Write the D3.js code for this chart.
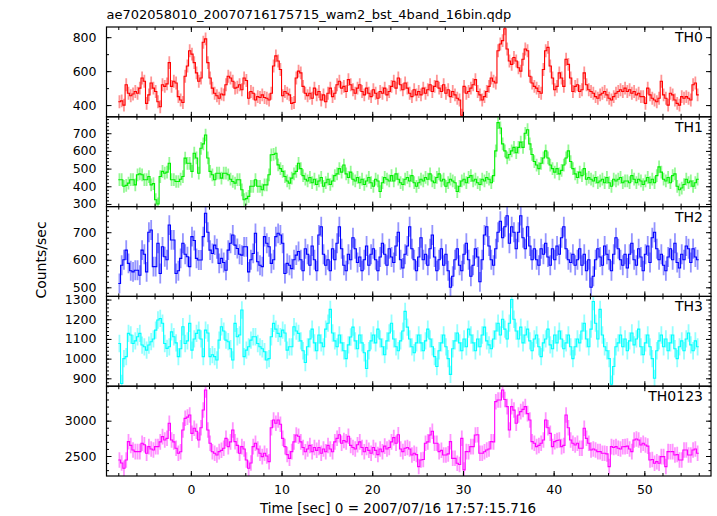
<!DOCTYPE html>
<html><head><meta charset="utf-8">
<script src="https://cdn.jsdelivr.net/npm/d3@7/dist/d3.min.js"></script>
<style>body{margin:0;background:#fff}svg{display:block}</style>
</head><body>
<svg id="c" width="717" height="516"></svg>
<script>
const title = "ae702058010_20070716175715_wam2_bst_4band_16bin.qdp";
const xLabel = "Time [sec] 0 = 2007/07/16 17:57:15.716";
const yLabel = "Counts/sec";
const panelNames = ["TH0", "TH1", "TH2", "TH3", "TH0123"];
const panelColors = ["#ff0000", "#00ee00", "#0000ff", "#00ffff", "#ff00ff"];
const yDomains = [[331, 860], [285, 793], [467, 793], [860, 1316], [2217, 3488]];
const yMajor = [[400, 600, 800], [300, 400, 500, 600, 700], [500, 600, 700], [900, 1000, 1100, 1200, 1300], [2500, 3000]];
const yMinorStep = [100, 20, 20, 20, 100];
const errHalf = [38, 36, 36, 44, 110];
const xTicks = [0, 10, 20, 30, 40, 50];
const binStart = -7.875, binWidth = 0.25;

const th0 = [
420,425,400,520, 470,455,465,480, 470,500,560,540, 410,460,530,500,
480,420,390,520, 510,525,650,510, 540,530,450,430, 415,570,630,720,
700,650,590,540, 560,770,790,650, 560,500,470,455, 440,465,460,520,
570,560,540,500, 505,520,490,560, 545,440,480,470, 430,450,445,460,
445,440,430,470, 630,690,660,610, 455,480,470,460, 410,415,560,600,
590,510,470,455, 470,440,500,460, 480,430,460,420, 470,500,450,470,
520,540,500,510, 480,550,520,490, 470,500,520,480, 460,500,470,450,
490,470,440,480, 470,500,460,480, 510,540,500,560, 520,490,530,500,
470,450,490,460, 480,460,500,470, 490,520,480,510, 540,500,480,520,
470,490,450,480, 460,440,430,340, 510,470,480,500, 520,550,480,460,
430,450,480,510, 560,540,530,720, 760,780,850,730, 660,640,680,660,
620,600,670,730, 720,570,530,510, 500,480,470,610, 720,740,630,560,
490,510,590,560, 510,670,640,560, 480,510,520,480, 490,590,520,490,
480,470,450,440, 460,470,480,460, 440,430,450,470, 480,490,480,500,
480,490,470,480, 460,470,450,450, 410,500,460,440, 430,420,440,540,
460,440,400,470, 460,430,410,400, 450,440,450,440, 430,520,530,460];

const th1 = [
437,437,400,405, 418,437,437,408, 465,470,465,437, 437,455,408,415,
324,300,455,484, 474,480,530,437, 437,427,427,440, 455,559,530,530,
484,587,560,474, 615,640,690,560, 484,465,437,474, 474,446,474,474,
465,440,427,418, 437,437,380,324, 330,343,400,400, 437,400,400,380,
408,408,465,578, 580,587,521,500, 484,455,430,418, 446,470,484,530,
500,460,440,430, 450,420,440,410, 430,450,400,420, 440,410,430,460,
470,500,480,520, 470,450,480,440, 430,450,420,440, 410,430,450,420,
400,440,430,370, 420,450,440,430, 460,430,470,440, 420,410,440,450,
430,460,420,400, 420,440,430,450, 440,470,430,420, 450,470,430,440,
400,420,440,430, 420,370,400,430, 440,420,450,460, 430,440,420,410,
440,430,450,440, 420,460,600,760, 730,640,600,560, 580,600,620,590,
620,650,620,700, 720,640,580,540, 520,500,530,560, 600,560,520,500,
480,500,470,490, 520,560,600,540, 500,470,450,480, 460,500,440,450,
440,430,450,420, 430,440,420,450, 420,400,440,430, 440,450,420,430,
430,420,460,440, 420,440,430,410, 430,450,420,440, 420,460,510,480,
440,430,450,420, 460,470,400,380, 390,410,440,420, 430,400,420,440];

const th2 = [
514,580,600,635, 587,560,556,562, 562,544,635,620, 556,700,708,575,
575,660,550,647, 611,600,726,672, 672,550,560,605, 660,620,611,575,
684,670,605,599, 599,684,769,700, 635,623,653,640, 587,605,590,562,
635,660,690,653, 641,620,617,647, 647,556,600,623, 696,593,580,575,
684,660,647,587, 600,684,696,690, 660,550,587,580, 568,600,617,630,
600,560,640,620, 580,650,600,560, 690,720,620,580, 600,560,640,600,
660,720,640,580, 560,620,600,680, 640,590,610,560, 600,650,580,620,
640,600,560,610, 660,620,580,640, 610,590,650,700, 600,570,620,650,
720,640,600,560, 610,680,600,620, 580,640,690,610, 560,600,640,580,
620,560,500,540, 600,640,580,560, 620,660,600,540, 580,640,610,520,
600,690,720,650, 600,580,640,700, 740,680,720,760, 660,720,700,640,
700,760,680,640, 720,650,600,640, 600,580,640,620, 660,610,580,640,
600,650,620,680, 720,640,600,590, 620,580,600,640, 580,620,560,600,
500,540,600,640, 610,580,650,620, 600,560,620,680, 640,600,580,620,
570,620,660,600, 580,640,610,560, 620,650,590,680, 700,640,600,620,
580,560,610,640, 600,660,590,570, 620,600,650,640, 590,640,610,600];

const th3 = [
1077,874,1000,1010, 1128,1120,1077,1090, 1111,1128,1069,1060, 1043,1069,1086,1100,
1145,1196,1204,1180, 1077,1052,1060,1136, 1111,1080,1010,1050, 1162,1077,1090,1179,
1043,1100,1128,1145, 1100,1010,1145,1130, 1010,1020,1010,993, 1094,1162,1140,1094,
1086,1050,993,1179, 1111,1120,1247,1010, 1043,1060,1094,1111, 1111,1077,1060,1050,
1035,993,1000,1111, 1179,1150,1128,1111, 1145,1130,1043,1060, 1060,1162,1140,1128,
1090,1040,980,1060, 1100,1150,1080,1040, 1120,1080,1060,1150, 1180,1250,1130,1090,
1060,1120,1080,1040, 1000,1070,1110,1160, 1090,1050,1120,1080, 1030,950,1040,1090,
1120,1080,1150,1100, 1060,1020,1090,1130, 1180,1100,1060,1040, 1090,1140,1240,1160,
1100,1060,1030,1080, 1120,1080,1040,1090, 1150,1100,1060,1010, 960,1040,1080,1120,
1060,1000,920,1050, 1090,1130,1080,1040, 1100,1060,1150,1120, 1080,1040,1100,1060,
1120,1160,1090,1070, 1050,1100,1140,1180, 1120,1200,1150,1100, 1180,1300,1200,1140,
1100,1160,1080,1120, 1150,1090,1040,1100, 1120,1060,1010,1080, 1100,1150,1070,1050,
1120,1080,1140,1100, 1050,1080,1120,1060, 1000,1060,1100,1080, 1140,1180,1100,1060,
1150,1290,1180,1100, 1250,1120,1060,1040, 1000,870,960,1060, 1080,1120,1060,1100,
1040,1090,1130,1070, 1100,1150,1060,1020, 1080,1120,1060,1000, 900,1040,1090,1120,
1060,1100,1040,1080, 1120,1050,1000,1060, 1090,1040,1100,1130, 1070,1040,1090,1060];

const th0123 = [
2444,2400,2326,2444, 2703,2650,2585,2562, 2562,2562,2680,2660, 2538,2633,2600,2585,
2633,2633,2700,2774, 2727,2750,2963,2727, 2700,2609,2538,2560, 2868,3033,3050,3080,
2821,2892,2850,2727, 2900,3151,3434,2868, 2680,2560,2538,2515, 2562,2580,2609,2750,
2633,2700,2868,2703, 2650,2538,2633,2600, 2444,2326,2400,2633, 2680,2600,2538,2491,
2538,2500,2420,2900, 3010,2963,3010,2950, 2750,2633,2520,2467, 2562,2700,2797,2780,
2700,2620,2560,2600, 2650,2560,2620,2580, 2620,2540,2600,2560, 2650,2600,2560,2700,
2750,2800,2680,2720, 2700,2780,2650,2620, 2600,2660,2700,2620, 2560,2620,2580,2540,
2620,2580,2520,2600, 2560,2640,2600,2620, 2700,2760,2680,2800, 2600,2562,2609,2620,
2600,2515,2540,2520, 2350,2444,2450,2680, 2700,2797,2850,2680, 2680,2562,2580,2515,
2515,2530,2703,2467, 2467,2397,2380,2750, 2303,2562,2560,2633, 2633,2797,2800,2538,
2538,2560,2585,2600, 2703,2700,3269,3293, 3293,3434,3300,3199, 2868,3199,3150,2963,
3080,3128,3160,3199, 3100,3010,2703,2680, 2633,2650,2680,2727, 3010,2900,2821,2633,
2703,2720,2727,2633, 2650,3080,2900,2727, 2680,2656,2680,2609, 2609,2892,2750,2680,
2585,2600,2585,2562, 2562,2540,2538,2530, 2350,2633,2620,2633, 2609,2600,2630,2633,
2640,2600,2562,2727, 2740,2727,2656,2680, 2656,2640,2444,2450, 2397,2420,2397,2491,
2491,2350,2562,2560, 2562,2515,2520,2444, 2444,2585,2585,2515, 2515,2585,2600,2538];

const seriesList = [th0, th1, th2, th3, th0123];

const W = 717, H = 516;
const plotLeft = 106.5, plotRight = 711, plotTop = 27, plotBottom = 476;
const nP = panelNames.length;
const pH = (plotBottom - plotTop) / nP;
const font = "'DejaVu Sans', sans-serif";

const svg = d3.select("#c");
svg.append("rect").attr("width", W).attr("height", H).attr("fill", "#fff");

const x = d3.scaleLinear().domain([-9.3, 57.35]).range([plotLeft, plotRight]);
const xMinor = d3.range(-8, 57, 2);

svg.append("text").attr("x", plotLeft).attr("y", 19)
  .attr("font-family", font).attr("font-size", 13).attr("fill", "#000").text(title);

seriesList.forEach((vals, i) => {
  const y0 = plotTop + i * pH, y1 = plotTop + (i + 1) * pH;
  const y = d3.scaleLinear().domain(yDomains[i]).range([y1, y0]);
  const g = svg.append("g");
  const clipId = "clip" + i;
  svg.append("clipPath").attr("id", clipId).append("rect")
    .attr("x", plotLeft).attr("y", y0).attr("width", plotRight - plotLeft).attr("height", y1 - y0);
  const data = vals.map((v, k) => ({ t: binStart + k * binWidth, v }));
  const dg = g.append("g").attr("clip-path", `url(#${clipId})`);
  const col = panelColors[i];
  dg.selectAll("line.err").data(data).join("line").attr("class", "err")
    .attr("x1", d => x(d.t)).attr("x2", d => x(d.t))
    .attr("y1", d => y(d.v - errHalf[i])).attr("y2", d => y(d.v + errHalf[i]))
    .attr("stroke", col).attr("stroke-opacity", 0.42).attr("stroke-width", 1.8);
  const line = d3.line().x(d => x(d.t)).y(d => y(d.v)).curve(d3.curveStep);
  const ext = [{ t: data[0].t - binWidth / 2, v: data[0].v }, ...data, { t: data[data.length - 1].t + binWidth / 2, v: data[data.length - 1].v }];
  dg.append("path").datum(ext).attr("d", line)
    .attr("fill", "none").attr("stroke", col).attr("stroke-width", 1.1);

  const [lo, hi] = yDomains[i];
  const minor = d3.range(Math.ceil(lo / yMinorStep[i]) * yMinorStep[i], hi, yMinorStep[i]);
  const axL = g.append("g").attr("transform", `translate(${plotLeft},0)`)
    .call(d3.axisLeft(y).tickValues(yMajor[i]).tickSize(-5).tickPadding(10).tickFormat(d3.format("d")));
  axL.select(".domain").remove();
  axL.selectAll("text").attr("font-family", font).attr("font-size", 12.5).attr("fill", "#000");
  const axLm = g.append("g").attr("transform", `translate(${plotLeft},0)`)
    .call(d3.axisLeft(y).tickValues(minor).tickSize(-2.5).tickFormat(""));
  axLm.select(".domain").remove();
  const axR = g.append("g").attr("transform", `translate(${plotRight},0)`)
    .call(d3.axisRight(y).tickValues(yMajor[i]).tickSize(-5).tickFormat(""));
  axR.select(".domain").remove();
  const axRm = g.append("g").attr("transform", `translate(${plotRight},0)`)
    .call(d3.axisRight(y).tickValues(minor).tickSize(-2.5).tickFormat(""));
  axRm.select(".domain").remove();
  const axT = g.append("g").attr("transform", `translate(0,${y0})`)
    .call(d3.axisTop(x).tickValues(xTicks).tickSize(-5).tickFormat(""));
  axT.select(".domain").remove();
  const axTm = g.append("g").attr("transform", `translate(0,${y0})`)
    .call(d3.axisTop(x).tickValues(xMinor).tickSize(-3).tickFormat(""));
  axTm.select(".domain").remove();
  const axB = g.append("g").attr("transform", `translate(0,${y1})`)
    .call(d3.axisBottom(x).tickValues(xTicks).tickSize(-5).tickPadding(9).tickFormat(i === nP - 1 ? d3.format("d") : ""));
  axB.select(".domain").remove();
  axB.selectAll("text").attr("font-family", font).attr("font-size", 12.5).attr("fill", "#000");
  const axBm = g.append("g").attr("transform", `translate(0,${y1})`)
    .call(d3.axisBottom(x).tickValues(xMinor).tickSize(-3).tickFormat(""));
  axBm.select(".domain").remove();
  g.selectAll(".tick line").attr("stroke", "#000").attr("stroke-width", 1);

  g.append("rect").attr("x", plotLeft).attr("y", y0).attr("width", plotRight - plotLeft).attr("height", y1 - y0)
    .attr("fill", "none").attr("stroke", "#000").attr("stroke-width", 1.2);
  g.append("text").attr("x", 703).attr("y", y0 + 15).attr("text-anchor", "end")
    .attr("font-family", font).attr("font-size", 14).attr("fill", "#000").text(panelNames[i]);
});

svg.append("text").attr("x", 398).attr("y", 513).attr("text-anchor", "middle")
  .attr("font-family", font).attr("font-size", 13.5).attr("fill", "#000").text(xLabel);
svg.append("text").attr("transform", "translate(46,260) rotate(-90)").attr("text-anchor", "middle")
  .attr("font-family", font).attr("font-size", 14).attr("fill", "#000").text(yLabel);
</script>
</body></html>
